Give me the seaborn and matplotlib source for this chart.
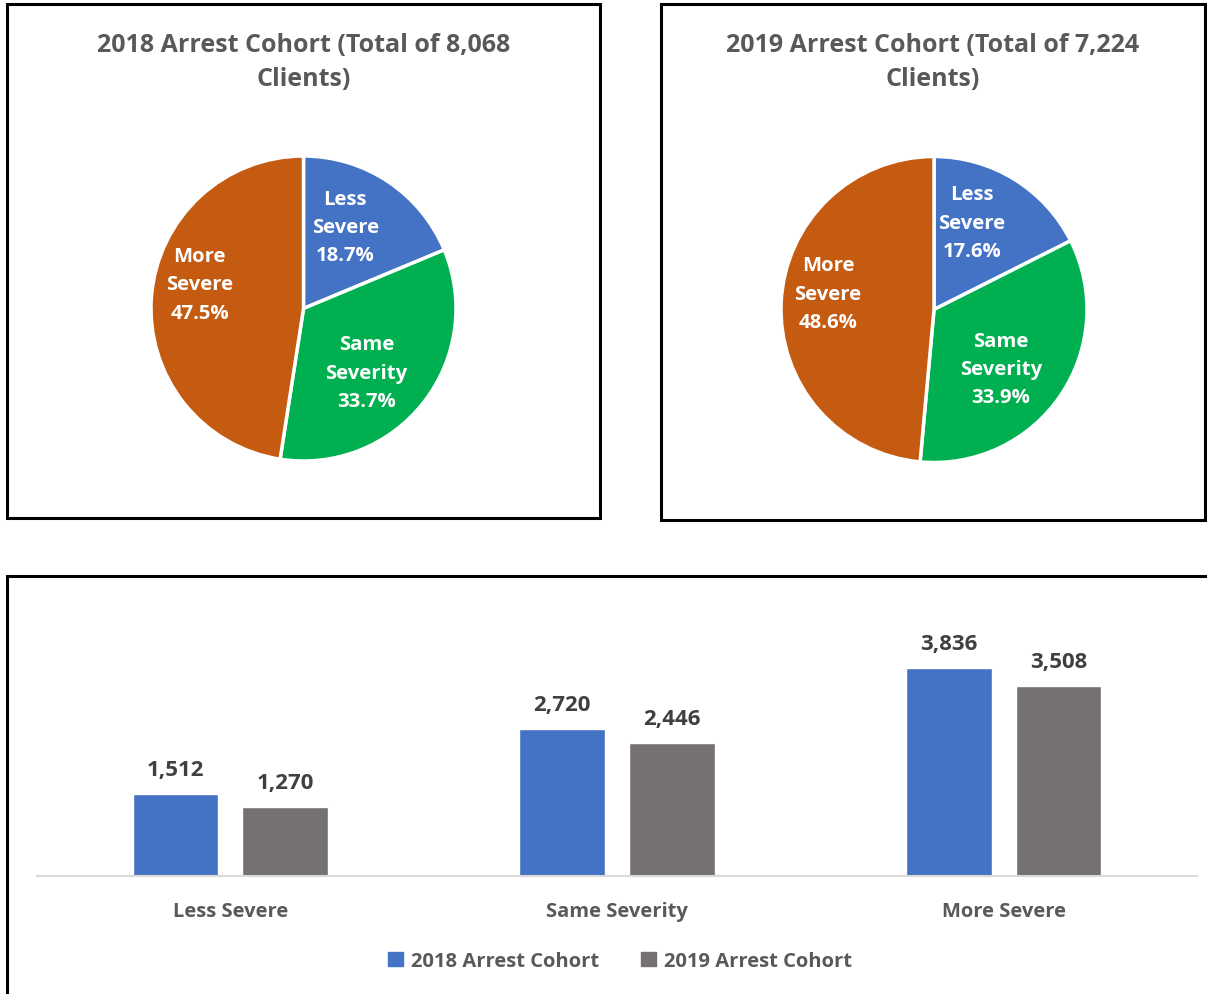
import matplotlib
matplotlib.use("Agg")
import matplotlib.pyplot as plt
from matplotlib.patches import Rectangle
import numpy as np
import pandas as pd
import seaborn as sns

# Data
categories = ["Less Severe", "Same Severity", "More Severe"]
cohorts = ["2018 Arrest Cohort", "2019 Arrest Cohort"]
pct_2018 = [18.7, 33.7, 47.5]
pct_2019 = [17.6, 33.9, 48.6]
counts_2018 = [1512, 2720, 3836]
counts_2019 = [1270, 2446, 3508]
pie_titles = ["2018 Arrest Cohort (Total of 8,068\nClients)",
              "2019 Arrest Cohort (Total of 7,224\nClients)"]
pie_label_text = ["Less\nSevere", "Same\nSeverity", "More\nSevere"]

pie_colors = ["#4472C4", "#00B050", "#C55A11"]
bar_colors = ["#4472C4", "#767171"]
title_grey = "#595959"
value_grey = "#404040"

sns.set_theme(style="white")
plt.rcParams["font.family"] = ["Open Sans", "DejaVu Sans"]
plt.rcParams["font.weight"] = "bold"

W, H = 1207, 995
fig = plt.figure(figsize=(W / 100, H / 100), dpi=100)


def fig_rect(x0, y0, x1, y1):
    """Pixel box (top-left origin) to figure-fraction [l, b, w, h]."""
    return [x0 / W, 1 - y1 / H, (x1 - x0) / W, (y1 - y0) / H]


# Panel frames
for (x0, y0, x1, y1) in [(7, 5, 600, 519), (661, 5, 1205, 521), (7, 577, 1215, 1005)]:
    fig.patches.append(Rectangle((x0 / W, 1 - y1 / H), (x1 - x0) / W, (y1 - y0) / H,
                                 transform=fig.transFigure, fill=False,
                                 edgecolor="black", linewidth=2.2, zorder=0))

# Pie panels: (values, centre px, radius px, title x, label (radius, angle shift))
pie_specs = [
    (pct_2018, (303.5, 309.5), 152.5, 303.5, [(0.60, 6.5), (0.59, -7.4), (0.70, -8.7)]),
    (pct_2019, (934.0, 310.5), 153.0, 933.0, [(0.62, 8.0), (0.585, -7.2), (0.70, -5.9)]),
]
for i, (vals, (cx, cy), r, tx, lpos) in enumerate(pie_specs):
    ax = fig.add_axes(fig_rect(cx - r, cy - r, cx + r, cy + r))
    wedges, _ = ax.pie(vals, colors=pie_colors, startangle=90, counterclock=False,
                       radius=1.0, wedgeprops=dict(edgecolor="white", linewidth=2.5))
    ax.set_xlim(-1, 1)
    ax.set_ylim(-1, 1)
    ax.set_aspect("equal")
    ax.axis("off")
    for w, lab, v, (d, shift) in zip(wedges, pie_label_text, vals, lpos):
        ang = np.deg2rad((w.theta1 + w.theta2) / 2 + shift)
        ax.text(d * np.cos(ang), d * np.sin(ang), f"{lab}\n{v:.1f}%",
                ha="center", va="center", color="white", fontsize=14.6,
                fontweight="bold", linespacing=1.55)
    fig.text(tx / W, 1 - 62.5 / H, pie_titles[i], ha="center", va="center",
             fontsize=18, fontweight="bold", color=title_grey, linespacing=1.5)

# Grouped bar chart
df = pd.DataFrame({
    "Category": categories * 2,
    "Cohort": [cohorts[0]] * 3 + [cohorts[1]] * 3,
    "Clients": counts_2018 + counts_2019,
})
bx = fig.add_axes(fig_rect(37, 633, 1197, 877))
sns.barplot(data=df, x="Category", y="Clients", hue="Cohort", order=categories,
            hue_order=cohorts, palette=bar_colors, width=0.568, gap=0.22,
            saturation=1, ax=bx, legend=False)
bx.set_ylim(0, 4500)
bx.set_xlim(-0.5, 2.5)
for cont in bx.containers:
    bx.bar_label(cont, labels=[f"{v:,.0f}" for v in cont.datavalues], padding=10,
                 fontsize=16, fontweight="bold", color=value_grey)
for s in ["top", "right", "left"]:
    bx.spines[s].set_visible(False)
bx.spines["bottom"].set_color("#D9D9D9")
bx.spines["bottom"].set_linewidth(1.5)
bx.set_yticks([])
bx.set_xlabel("")
bx.set_ylabel("")
bx.tick_params(axis="x", length=0, pad=18, labelsize=14.5, labelcolor=title_grey)
for t in bx.get_xticklabels():
    t.set_fontweight("bold")

handles = [Rectangle((0, 0), 1, 1, color=c) for c in bar_colors]
fig.legend(handles, cohorts, loc="center", bbox_to_anchor=(620 / W, 1 - 962 / H),
           ncol=2, frameon=False, handlelength=0.75, handleheight=0.75,
           handletextpad=0.4, columnspacing=2.1, labelcolor=title_grey,
           prop=dict(weight="bold", size=14.5))

fig.savefig("out.png", dpi=100)
